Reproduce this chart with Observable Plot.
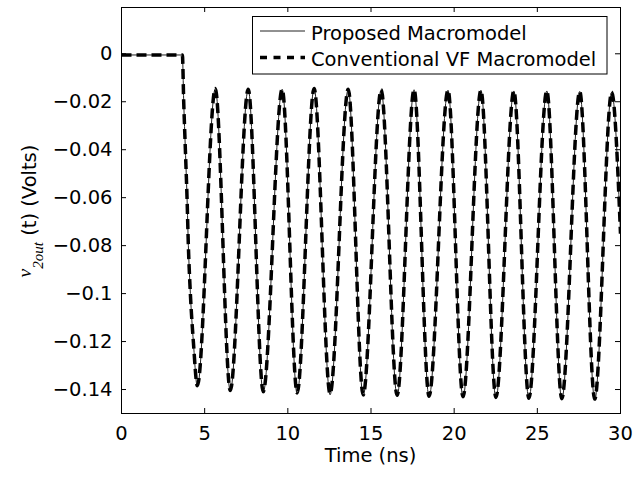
<!DOCTYPE html>
<html>
<head>
<meta charset="utf-8">
<script src="https://cdn.jsdelivr.net/npm/d3@7"></script>
<script src="https://cdn.jsdelivr.net/npm/@observablehq/plot@0.6"></script>
<style>
  html, body { margin: 0; padding: 0; background: #fff; }
  #chart svg { display: block; }
</style>
</head>
<body>
<div id="chart"></div>
<script>
// ---- data ----
const seriesNames = ["Proposed Macromodel", "Conventional VF Macromodel"];
const timeNs = [0, 3.66, 3.74, 3.84, 3.94, 4.02, 4.14, 4.32, 4.56,
  5.64, 6.54, 7.62, 8.52, 9.66, 10.56, 11.58, 12.54, 13.63, 14.53, 15.61, 16.57,
  17.59, 18.49, 19.63, 20.53, 21.61, 22.51, 23.59, 24.49, 25.57, 26.47, 27.55, 28.45, 29.47, 30];
const proposedV = [-0.0005, -0.0005, -0.02, -0.04, -0.06, -0.08, -0.1, -0.12, -0.1388,
  -0.0145, -0.1408, -0.0148, -0.1413, -0.0148, -0.1418, -0.0145, -0.1422, -0.0148, -0.1427, -0.015, -0.1428,
  -0.015, -0.1432, -0.0152, -0.1434, -0.0152, -0.1437, -0.0155, -0.144, -0.0155, -0.1442, -0.0157, -0.1444, -0.016, -0.075];
const conventionalV = [-0.0005, -0.0005, -0.02, -0.04, -0.06, -0.08, -0.1, -0.12, -0.1384,
  -0.0145, -0.1404, -0.0148, -0.1409, -0.0148, -0.1414, -0.0145, -0.1418, -0.0148, -0.1423, -0.015, -0.1424,
  -0.015, -0.1428, -0.0152, -0.143, -0.0152, -0.1433, -0.0155, -0.1436, -0.0155, -0.1438, -0.0157, -0.144, -0.016, -0.075];
const xTicks = [0, 5, 10, 15, 20, 25, 30];
const xTickLabels = ["0", "5", "10", "15", "20", "25", "30"];
const yTicks = [0, -0.02, -0.04, -0.06, -0.08, -0.1, -0.12, -0.14];
const yTickLabels = ["0", "\u22120.02", "\u22120.04", "\u22120.06", "\u22120.08", "\u22120.1", "\u22120.12", "\u22120.14"];
const xDomain = [0, 30];
const yDomain = [-0.15, 0.0193];
const xLabel = "Time (ns)";
const yLabelVar = "v";
const yLabelSub = "2out";
const yLabelRest = " (t) (Volts)";

// ---- build rows ----
const rowsP = timeNs.map((t, i) => ({t, v: proposedV[i], series: seriesNames[0]}));
const rowsC = timeNs.map((t, i) => ({t, v: conventionalV[i], series: seriesNames[1]}));

const W = 641, H = 477, mL = 121, mR = 21, mT = 7, mB = 64;
const frameW = W - mL - mR, frameH = H - mT - mB;
const tickLen = 5;
const font = "'DejaVu Sans', sans-serif";
const fs = 19.5;

const styles = [
  {stroke: "#222", strokeWidth: 1, dash: null, legendDash: null},
  {stroke: "#000", strokeWidth: 3.5, dash: "10,5", legendDash: "7,6.5"}
];

const chart = Plot.plot({
  width: W, height: H,
  marginLeft: mL, marginRight: mR, marginTop: mT, marginBottom: mB,
  style: {fontFamily: font, fontSize: fs + "px", color: "#000", background: "#fff", overflow: "visible"},
  x: {domain: xDomain},
  y: {domain: yDomain},
  marks: [
    Plot.line(rowsP, {x: "t", y: "v", curve: "monotone-x", stroke: styles[0].stroke, strokeWidth: styles[0].strokeWidth, clip: true}),
    Plot.line(rowsC, {x: "t", y: "v", curve: "monotone-x", stroke: styles[1].stroke, strokeWidth: styles[1].strokeWidth, strokeDasharray: styles[1].dash, strokeLinecap: "butt", clip: true}),
    // inward tick marks on all four sides
    Plot.ruleX(xTicks, {x: d => d, insetTop: frameH - tickLen, stroke: "#000"}),
    Plot.ruleX(xTicks, {x: d => d, insetBottom: frameH - tickLen, stroke: "#000"}),
    Plot.ruleY(yTicks, {y: d => d, insetRight: frameW - tickLen, stroke: "#000"}),
    Plot.ruleY(yTicks, {y: d => d, insetLeft: frameW - tickLen, stroke: "#000"}),
    Plot.frame({stroke: "#000", strokeWidth: 1}),
    Plot.axisX({anchor: "bottom", ticks: xTicks, tickSize: 0, tickPadding: 12.4, label: null,
      tickFormat: d => xTickLabels[xTicks.indexOf(d)], fill: "#000"}),
    Plot.axisY({anchor: "left", ticks: yTicks, tickSize: 0, tickPadding: 9, label: null,
      tickFormat: d => yTickLabels[yTicks.findIndex(v => Math.abs(v - d) < 1e-9)], fill: "#000"})
  ]
});
document.getElementById("chart").appendChild(chart);

const svg = d3.select(chart);

// x label
svg.append("text")
  .attr("x", (mL + W - mR) / 2).attr("y", 462)
  .attr("text-anchor", "middle")
  .attr("font-family", font).attr("font-size", fs).attr("fill", "#000")
  .text(xLabel);

// y label (rotated, with italic subscripted variable)
const yl = svg.append("text")
  .attr("transform", "translate(36,211) rotate(-90)")
  .attr("text-anchor", "middle")
  .attr("font-family", font).attr("font-size", fs).attr("fill", "#000");
yl.append("tspan").attr("font-family", "'Liberation Serif', serif").attr("font-style", "italic").attr("dy", -5).text(yLabelVar);
yl.append("tspan").attr("font-family", "'Liberation Serif', serif").attr("font-style", "italic").attr("font-size", 15).attr("dy", 12).text(yLabelSub);
yl.append("tspan").attr("dy", -7).text(yLabelRest);

// legend
const lg = svg.append("g");
lg.append("rect").attr("x", 252.5).attr("y", 16.5).attr("width", 354.5).attr("height", 57.5)
  .attr("fill", "#fff").attr("stroke", "#000").attr("stroke-width", 1);
seriesNames.forEach((name, i) => {
  const ly = 31 + 26.5 * i;
  lg.append("line").attr("x1", 260).attr("x2", 305).attr("y1", ly).attr("y2", ly)
    .attr("stroke", styles[i].stroke).attr("stroke-width", styles[i].strokeWidth)
    .attr("stroke-dasharray", styles[i].legendDash);
  lg.append("text").attr("x", 311).attr("y", 40 + 26 * i)
    .attr("text-anchor", "start")
    .attr("font-family", font).attr("font-size", fs).attr("fill", "#000")
    .text(name);
});
</script>
</body>
</html>
